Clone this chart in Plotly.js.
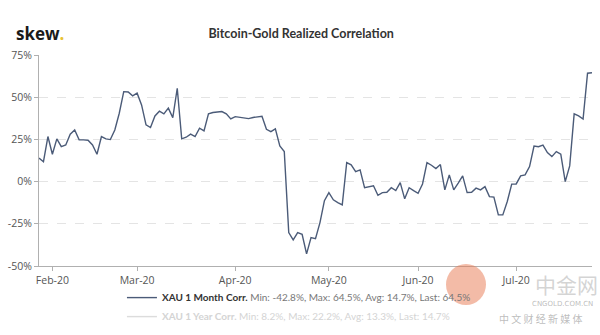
<!DOCTYPE html>
<html>
<head>
<meta charset="utf-8">
<script src="https://cdn.plot.ly/plotly-3.0.1.min.js"></script>
<style>html,body{margin:0;padding:0;background:#fff;}#chart{width:600px;height:335px;}</style>
</head>
<body>
<div id="chart"></div>
<script>
// Trading days (US holidays Feb 17, Apr 10, May 25, Jul 3 absent)
const dates = [
 '2020-01-29','2020-01-30','2020-01-31',
 '2020-02-03','2020-02-04','2020-02-05','2020-02-06','2020-02-07','2020-02-10','2020-02-11','2020-02-12','2020-02-13','2020-02-14',
 '2020-02-18','2020-02-19','2020-02-20','2020-02-21','2020-02-24','2020-02-25','2020-02-26','2020-02-27','2020-02-28',
 '2020-03-02','2020-03-03','2020-03-04','2020-03-05','2020-03-06','2020-03-09','2020-03-10','2020-03-11','2020-03-12','2020-03-13',
 '2020-03-16','2020-03-17','2020-03-18','2020-03-19','2020-03-20','2020-03-23','2020-03-24','2020-03-25','2020-03-26','2020-03-27',
 '2020-03-30','2020-03-31',
 '2020-04-01','2020-04-02','2020-04-03','2020-04-06','2020-04-07','2020-04-08','2020-04-09','2020-04-13','2020-04-14','2020-04-15',
 '2020-04-16','2020-04-17','2020-04-20','2020-04-21','2020-04-22','2020-04-23','2020-04-24','2020-04-27','2020-04-28','2020-04-29','2020-04-30',
 '2020-05-01','2020-05-04','2020-05-05','2020-05-06','2020-05-07','2020-05-08','2020-05-11','2020-05-12','2020-05-13','2020-05-14',
 '2020-05-15','2020-05-18','2020-05-19','2020-05-20','2020-05-21','2020-05-22','2020-05-26','2020-05-27','2020-05-28','2020-05-29',
 '2020-06-01','2020-06-02','2020-06-03','2020-06-04','2020-06-05','2020-06-08','2020-06-09','2020-06-10','2020-06-11','2020-06-12',
 '2020-06-15','2020-06-16','2020-06-17','2020-06-18','2020-06-19','2020-06-22','2020-06-23','2020-06-24','2020-06-25','2020-06-26',
 '2020-06-29','2020-06-30',
 '2020-07-01','2020-07-02','2020-07-06','2020-07-07','2020-07-08','2020-07-09','2020-07-10','2020-07-13','2020-07-14','2020-07-15',
 '2020-07-16','2020-07-17','2020-07-20','2020-07-21','2020-07-22','2020-07-23','2020-07-24','2020-07-27'
];

// XAU 1 Month realized correlation (%)
const corr1m = [
 13.9, 11.8, 26.7,
 16.2, 25.3, 20.7, 21.7, 28.1, 30.6, 24.7, 24.7, 24.5, 21.7,
 16.2, 26.7, 25.3, 24.9, 30.6, 40.5, 53.3, 53.1, 50.8,
 52.4, 45.4, 33.6, 32.0, 38.9, 41.7, 40.1, 43.5, 37.9, 55.3,
 25.3, 26.3, 28.1, 26.7, 31.6, 30.0, 40.1, 40.9, 41.2, 41.5,
 40.1, 37.1,
 38.5, 38.0, 37.6, 37.3, 38.0, 38.5, 38.7, 31.0, 29.6, 31.2,
 21.1, 17.8, -30.2, -34.5, -30.2, -31.2, -42.8, -33.2, -33.8, -24.3, -11.3,
 -6.5, -10.8, -12.4, -13.8, 11.3, 9.9, 5.9, 6.9, -3.6, -3.1,
 -2.5, -8.1, -6.5, -6.3, -3.6, -5.3, -0.6, -10.2, -3.6, -5.3,
 -6.9, -1.4, 11.3, 9.7, 7.7, 10.1, -4.9, 4.0, -4.9, -0.9,
 3.4, -6.5, -6.3, -3.9, -4.9, -3.0, -8.9, -9.2, -19.7, -19.7,
 -11.8, -1.5,
 -1.4, 3.4, 4.0, 8.9, 21.1, 20.7, 21.6, 17.2, 14.8, 17.8,
 16.2, 0.0, 9.3, 40.1, 38.9, 37.1, 64.2, 64.5
];
// XAU 1 Year series is hidden in the reference (legend only, no visible values)
const corr1y = [null];

// Legend entries and their statistics
const seriesNames = ['XAU 1 Month Corr.', 'XAU 1 Year Corr.'];
const statMin = [-42.8, 8.2];
const statMax = [64.5, 22.2];
const statAvg = [14.7, 13.3];
const statLast = [64.5, 14.7];

// Axis ticks
const tickDates = ['2020-02-03','2020-03-02','2020-04-01','2020-05-01','2020-06-01','2020-07-01'];
const tickLabels = ['Feb-20','Mar-20','Apr-20','May-20','Jun-20','Jul-20'];
const yTicks = [-50, -25, 0, 25, 50, 75];
const yTickLabels = ['-50%', '-25%', '0%', '25%', '50%', '75%'];

function legendName(i, nameColor, statColor) {
  return '<span style="color:' + nameColor + '"><b>' + seriesNames[i] + '</b></span>' +
    '<span style="color:' + statColor + '"> Min: ' + statMin[i] + '%, Max: ' + statMax[i] +
    '%, Avg: ' + statAvg[i] + '%, Last: ' + statLast[i] + '%</span>';
}

const traces = [
  {
    type: 'scatter', mode: 'lines',
    x: dates, y: corr1m,
    line: {color: '#4b5b78', width: 1.4},
    name: legendName(0, '#333', '#777'),
    showlegend: true,
    hoverinfo: 'skip'
  },
  {
    type: 'scatter', mode: 'lines',
    x: dates.slice(0, corr1y.length), y: corr1y,
    visible: 'legendonly',
    showlegend: true,
    line: {color: '#bbbbbb', width: 1.4},
    name: legendName(1, '#aaa', '#aaa')
  }
];

const layout = {
  width: 600, height: 335,
  margin: {l: 39, r: 8, t: 55, b: 69, autoexpand: false},
  paper_bgcolor: '#fff', plot_bgcolor: '#fff',
  font: {family: 'Lato, "Open Sans", sans-serif', color: '#555'},
  title: {
    text: 'Bitcoin-Gold Realized Correlation',
    font: {family: 'Lato, sans-serif', size: 12.5, color: '#333', weight: 'bold'},
    x: 0.502, xanchor: 'center', y: 0.9, yanchor: 'middle'
  },
  xaxis: {
    type: 'category',
    range: [0, dates.length - 1],
    tickmode: 'array', tickvals: tickDates, ticktext: tickLabels,
    showgrid: false, zeroline: false,
    showline: true, linecolor: '#b0b0b0', linewidth: 1,
    ticks: 'outside', ticklen: 4, tickcolor: '#b0b0b0',
    tickfont: {family: '"Open Sans", sans-serif', size: 10.5, color: '#555'}
  },
  yaxis: {
    range: [-50, 75],
    tickmode: 'array', tickvals: yTicks, ticktext: yTickLabels,
    showgrid: true, gridcolor: '#e4e4e4', griddash: 'dash', gridwidth: 1,
    zeroline: false,
    showline: true, linecolor: '#b0b0b0', linewidth: 1,
    ticks: 'outside', ticklen: 4, tickcolor: '#b0b0b0',
    tickfont: {family: '"Open Sans", sans-serif', size: 10.5, color: '#555'}
  },
  showlegend: true,
  legend: {
    orientation: 'v',
    x: 0.15, xanchor: 'left', y: -0.081, yanchor: 'top',
    font: {family: 'Lato, sans-serif', size: 10, color: '#333'},
    itemwidth: 30, tracegroupgap: 0,
    bgcolor: 'rgba(0,0,0,0)'
  },
  shapes: [
    {type: 'circle', xref: 'paper', yref: 'paper',
     x0: (446 - 39) / 553, x1: (486 - 39) / 553, y0: (266 - 305) / 211, y1: (266 - 264) / 211,
     fillcolor: 'rgba(232,120,80,0.5)', line: {width: 0}, layer: 'above'}
  ],
  annotations: [
    {text: '<b>skew</b><span style="color:#e8c234"><b>.</b></span>', xref: 'paper', yref: 'paper',
     x: -0.045, y: 1.10, xanchor: 'left', yanchor: 'middle', showarrow: false,
     font: {family: '"Open Sans", sans-serif', size: 17, color: '#1a1a1a'}},
    {text: '中金网', xref: 'paper', yref: 'paper', x: (566 - 39) / 553, y: (266 - 284) / 211,
     xanchor: 'center', yanchor: 'middle', showarrow: false,
     font: {family: '"Noto Sans CJK SC", sans-serif', size: 21, color: 'rgba(170,170,170,0.5)'}},
    {text: 'CNGOLD.COM.CN', xref: 'paper', yref: 'paper', x: (562 - 39) / 553, y: (266 - 304) / 211,
     xanchor: 'center', yanchor: 'middle', showarrow: false,
     font: {family: '"DejaVu Sans", sans-serif', size: 7, color: 'rgba(160,160,160,0.7)'}},
    {text: '中 文 财 经 新 媒 体', xref: 'paper', yref: 'paper', x: (540 - 39) / 553, y: (266 - 318) / 211,
     xanchor: 'center', yanchor: 'middle', showarrow: false,
     font: {family: '"Noto Sans CJK SC", sans-serif', size: 10, color: 'rgba(160,160,160,0.7)'}}
  ]
};

Plotly.newPlot('chart', traces, layout, {displayModeBar: false, staticPlot: true});
</script>
</body>
</html>
